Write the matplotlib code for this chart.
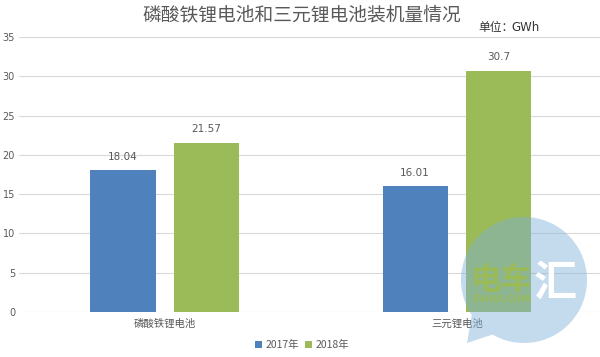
import numpy as np
import matplotlib.pyplot as plt
from matplotlib.patches import Polygon, Rectangle

plt.rcParams['font.family'] = ['Noto Sans CJK SC', 'DejaVu Sans']

categories = ['磷酸铁锂电池', '三元锂电池']
series_names = ['2017年', '2018年']
values_2017 = [18.04, 16.01]
values_2018 = [21.57, 30.7]
value_labels_2017 = ['18.04', '16.01']
value_labels_2018 = ['21.57', '30.7']
yticks = [0, 5, 10, 15, 20, 25, 30, 35]

blue = '#4f81bd'
green = '#9bbb59'
grey = '#595959'

fig = plt.figure(figsize=(6, 3.57), dpi=100)
ax = fig.add_axes([0.032, 0.126, 0.968, 0.77])

x = np.arange(len(categories))
w = 0.223
off = 0.1426
b1 = ax.bar(x - off, values_2017, w, color=blue, label=series_names[0], zorder=3)
b2 = ax.bar(x + off, values_2018, w, color=green, label=series_names[1], zorder=3)

for rect, lab in zip(b1, value_labels_2017):
    ax.text(rect.get_x() + rect.get_width() / 2, rect.get_height() + 1.1, lab,
            ha='center', va='bottom', fontsize=7.5, color=grey, family='DejaVu Sans')
for rect, lab in zip(b2, value_labels_2018):
    ax.text(rect.get_x() + rect.get_width() / 2, rect.get_height() + 1.1, lab,
            ha='center', va='bottom', fontsize=7.5, color=grey, family='DejaVu Sans')

ax.set_xlim(-0.498, 1.49)
ax.set_ylim(0, 35)
ax.set_yticks(yticks)
ax.set_yticklabels([str(t) for t in yticks], fontsize=7, color=grey, family='DejaVu Sans')
ax.set_xticks(x)
ax.set_xticklabels(categories, fontsize=7.5, color=grey)
ax.tick_params(axis='y', length=0, pad=3)
ax.tick_params(axis='x', length=0, pad=5)
ax.grid(axis='y', color='#d9d9d9', linewidth=0.8, zorder=0)
for s in ax.spines.values():
    s.set_visible(False)

fig.text(0.503, 0.958, '磷酸铁锂电池和三元锂电池装机量情况', ha='center', va='center',
         fontsize=13.5, color=grey)
fig.text(0.798, 0.922, '单位：', ha='left', va='center', fontsize=8.5, color='#333333')
fig.text(0.852, 0.922, 'GWh', ha='left', va='center', fontsize=8.5, color='#333333',
         family='DejaVu Sans')

# watermark: speech bubble (display pixels, origin bottom-left)
cx, cy, r = 524, 77, 63
ang = np.radians(np.linspace(240, 214 + 360, 200))
pts = np.column_stack([cx + r * np.cos(ang), cy + r * np.sin(ang)])
pts = np.vstack([pts, [[467, 14]]])
bubble = Polygon(pts, closed=True, transform=None, facecolor='#7eafd9',
                 edgecolor='none', alpha=0.45, zorder=10)
fig.patches.append(bubble)

# logo text looks knocked out: green over the bar, white elsewhere
gb = b2[1]
right_of_bar = Rectangle((gb.get_x() + gb.get_width(), -10), 5, 60, transform=ax.transData)
for col, clip in [('white', right_of_bar), (green, gb)]:
    ta = fig.text(501 / 600, 1 - 280 / 357, '电车', ha='center', va='center', fontsize=22,
                  color=col, weight='bold', zorder=11)
    tb = fig.text(555 / 600, 1 - 283 / 357, '汇', ha='center', va='center', fontsize=31,
                  color=col, weight='bold', zorder=11)
    tc = fig.text(501 / 600, 1 - 299 / 357, 'EVHUI.COM', ha='center', va='center', fontsize=6.5,
                  color=col, weight='bold', family='DejaVu Sans', zorder=11)
    for t in (ta, tb, tc):
        t.set_clip_path(clip)

leg = fig.legend(handles=[b1, b2], labels=series_names, loc='center',
                 bbox_to_anchor=(0.503, 0.034), ncol=2, frameon=False, fontsize=7.5,
                 handlelength=0.7, handleheight=0.7, handletextpad=0.3, columnspacing=0.6)
for t in leg.get_texts():
    t.set_color(grey)

fig.savefig('out.png', dpi=100)
